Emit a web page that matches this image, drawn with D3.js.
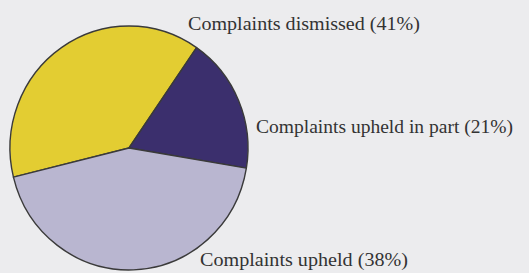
<!DOCTYPE html>
<html>
<head>
<meta charset="utf-8">
<script src="https://cdn.jsdelivr.net/npm/d3@7"></script>
<style>
  html, body { margin: 0; padding: 0; background: #ececee; }
  svg { display: block; }
</style>
</head>
<body>
<div id="chart"></div>
<script>
var svgwidth = 529;
var svgheight = 273;

// slice shares as drawn (degrees of the circle)
var categories = ["Complaints dismissed", "Complaints upheld in part", "Complaints upheld"];
var values = [138.4, 64.9, 156.7];
var labelPct = ["41%", "21%", "38%"];
var colors = ["#e3cd32", "#3b2f6d", "#b9b6d0"];

var cx = 129, cy = 148, radius = 119;
var startDeg = -103.8;

var svg = d3
  .select("#chart")
  .append("svg")
  .attr("width", svgwidth)
  .attr("height", svgheight);

var pie = d3
  .pie()
  .sort(null)
  .value((d) => d)
  .startAngle((startDeg * Math.PI) / 180)
  .endAngle((startDeg * Math.PI) / 180 + 2 * Math.PI);

var arc = d3.arc().innerRadius(0).outerRadius(radius);

var g = svg
  .append("g")
  .attr("transform", "translate(" + cx + "," + cy + ") scale(1,1.025)");

g.selectAll("path")
  .data(pie(values))
  .join("path")
  .attr("d", arc)
  .attr("fill", (d, i) => colors[i])
  .attr("stroke", "#3a3a3a")
  .attr("stroke-width", 1.4)
  .attr("stroke-linejoin", "round");

// labels
var labelPos = [
  { x: 188, y: 30, w: 232 },
  { x: 256, y: 133, w: 257 },
  { x: 200, y: 266, w: 208 }
];

svg
  .selectAll(".lbl")
  .data(categories)
  .join("text")
  .attr("class", "lbl")
  .attr("x", (d, i) => labelPos[i].x)
  .attr("y", (d, i) => labelPos[i].y)
  .attr("textLength", (d, i) => labelPos[i].w)
  .attr("lengthAdjust", "spacingAndGlyphs")
  .attr("font-family", "Liberation Serif, Times New Roman, Times, serif")
  .attr("font-size", 18)
  .attr("fill", "#333");
svg.selectAll(".lbl").text((d, i) => d + " (" + labelPct[i] + ")");
</script>
</body>
</html>
